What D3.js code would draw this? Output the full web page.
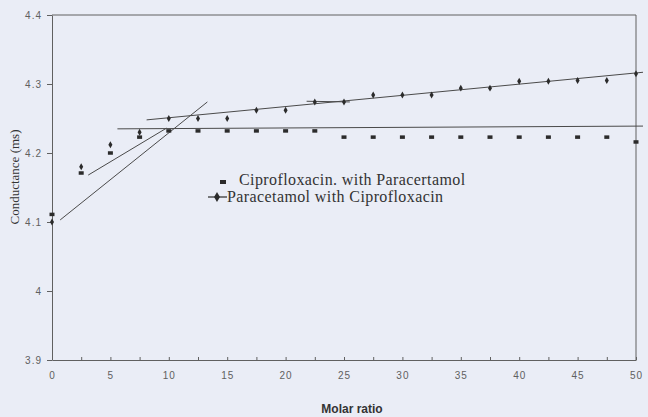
<!DOCTYPE html>
<html>
<head>
<meta charset="utf-8">
<script src="https://cdn.jsdelivr.net/npm/d3@7.9.0/dist/d3.min.js"></script>
<style>
  html, body { margin: 0; padding: 0; background: #eaedf6; }
  svg { display: block; }
</style>
</head>
<body>
<div id="chart"></div>
<script>
// molar ratio values shared by both series
const ratios = [0, 2.5, 5, 7.5, 10, 12.5, 15, 17.5, 20, 22.5, 25, 27.5, 30, 32.5, 35, 37.5, 40, 42.5, 45, 47.5, 50];

// Ciprofloxacin with Paracetamol (squares)
const ciproValues = [4.111, 4.171, 4.200, 4.223, 4.232, 4.232, 4.232, 4.232, 4.232, 4.232, 4.223,
                     4.223, 4.223, 4.223, 4.223, 4.223, 4.223, 4.223, 4.223, 4.223, 4.216];

// Paracetamol with Ciprofloxacin (diamonds)
const paraValues = [4.100, 4.180, 4.212, 4.230, 4.250, 4.250, 4.250, 4.262, 4.262, 4.274, 4.274,
                    4.284, 4.284, 4.284, 4.294, 4.294, 4.304, 4.304, 4.305, 4.305, 4.315];

// hand drawn fit lines [x1, y1, x2, y2] in data units
const fitLines = [
  [0.7, 4.103, 13.3, 4.274],
  [3.1, 4.168, 9.8, 4.236],
  [5.6, 4.235, 50.6, 4.239],
  [8.1, 4.248, 50.6, 4.317],
  [21.8, 4.275, 25.5, 4.274]
];

const yTicks = [3.9, 4, 4.1, 4.2, 4.3, 4.4];
const xTicks = [0, 5, 10, 15, 20, 25, 30, 35, 40, 45, 50];
const legendLabels = ['Ciprofloxacin. with Paracertamol', 'Paracetamol with Ciprofloxacin'];

const width = 648, height = 417;
const margin = { top: 15, right: 12, bottom: 57, left: 52 };

const svg = d3.select('#chart').append('svg')
  .attr('width', width)
  .attr('height', height);

const x = d3.scaleLinear().domain([0, 50]).range([margin.left, width - margin.right]);
const y = d3.scaleLinear().domain([3.9, 4.4]).range([height - margin.bottom, margin.top]);

const ink = '#2b2b2b';
const gray = '#606060';
const tickFont = '10px "Liberation Sans", Arial, sans-serif';

// frame (top and right)
svg.append('path')
  .attr('d', `M${x(0)},${y(4.4)}H${x(50)}V${y(3.9)}`)
  .attr('fill', 'none')
  .attr('stroke', gray)
  .attr('stroke-width', 1);

// x axis with minor ticks pointing up
const xAxis = svg.append('g')
  .attr('transform', `translate(0,${y(3.9)})`)
  .call(d3.axisBottom(x).tickValues(d3.range(0, 50.1, 2.5)).tickSizeInner(-3).tickSizeOuter(0)
    .tickFormat(d => xTicks.includes(d) ? d : ''));
xAxis.select('.domain').attr('stroke', gray);
xAxis.selectAll('.tick line').attr('stroke', gray);
xAxis.selectAll('.tick text')
  .attr('y', 12)
  .attr('fill', gray)
  .style('font', tickFont)
  .style('letter-spacing', '1px');

// y axis
const yAxis = svg.append('g')
  .attr('transform', `translate(${x(0)},0)`)
  .call(d3.axisLeft(y).tickValues(yTicks).tickSizeInner(5).tickSizeOuter(0).tickPadding(5)
    .tickFormat(d3.format('')));
yAxis.select('.domain').attr('stroke', gray);
yAxis.selectAll('.tick line').attr('stroke', gray);
yAxis.selectAll('.tick text')
  .attr('fill', gray)
  .style('font', tickFont)
  .style('letter-spacing', '1px');

// fit lines
svg.append('g').selectAll('line')
  .data(fitLines)
  .join('line')
  .attr('x1', d => x(d[0])).attr('y1', d => y(d[1]))
  .attr('x2', d => x(d[2])).attr('y2', d => y(d[3]))
  .attr('stroke', '#4a4a4a')
  .attr('stroke-width', 1);

// squares
svg.append('g').selectAll('rect')
  .data(ratios.map((r, i) => [r, ciproValues[i]]))
  .join('rect')
  .attr('x', d => x(d[0]) - 2.5)
  .attr('y', d => y(d[1]) - 1.75)
  .attr('width', 5)
  .attr('height', 3.5)
  .attr('fill', ink);

// diamonds
const diamond = d3.symbol().type(d3.symbolDiamond).size(14);
svg.append('g').selectAll('path')
  .data(ratios.map((r, i) => [r, paraValues[i]]))
  .join('path')
  .attr('d', diamond)
  .attr('transform', d => `translate(${x(d[0])},${y(d[1])})`)
  .attr('fill', ink);

// legend
const legend = svg.append('g');
legend.append('rect')
  .attr('x', 220).attr('y', 180).attr('width', 6).attr('height', 4)
  .attr('fill', ink);
legend.append('line')
  .attr('x1', 208).attr('x2', 227).attr('y1', 197).attr('y2', 197)
  .attr('stroke', ink).attr('stroke-width', 1.2);
legend.append('path')
  .attr('d', d3.symbol().type(d3.symbolDiamond).size(30))
  .attr('transform', 'translate(217,197)')
  .attr('fill', ink);
legend.selectAll('text')
  .data(legendLabels)
  .join('text')
  .attr('x', (d, i) => i === 0 ? 239 : 227)
  .attr('y', (d, i) => i === 0 ? 185 : 202)
  .attr('fill', '#333')
  .style('font', '16px "Liberation Serif", "Times New Roman", serif')
  .style('letter-spacing', '0.4px')
  .text(d => d);

// axis titles
svg.append('text')
  .attr('transform', 'translate(19,177) rotate(-90)')
  .attr('text-anchor', 'middle')
  .attr('fill', '#333')
  .style('font', '13px "Liberation Serif", "Times New Roman", serif')
  .text('Conductance (ms)');

svg.append('text')
  .attr('x', 352)
  .attr('y', 413)
  .attr('text-anchor', 'middle')
  .attr('fill', '#333')
  .style('font', 'bold 12px "Liberation Sans", Arial, sans-serif')
  .text('Molar ratio');
</script>
</body>
</html>
